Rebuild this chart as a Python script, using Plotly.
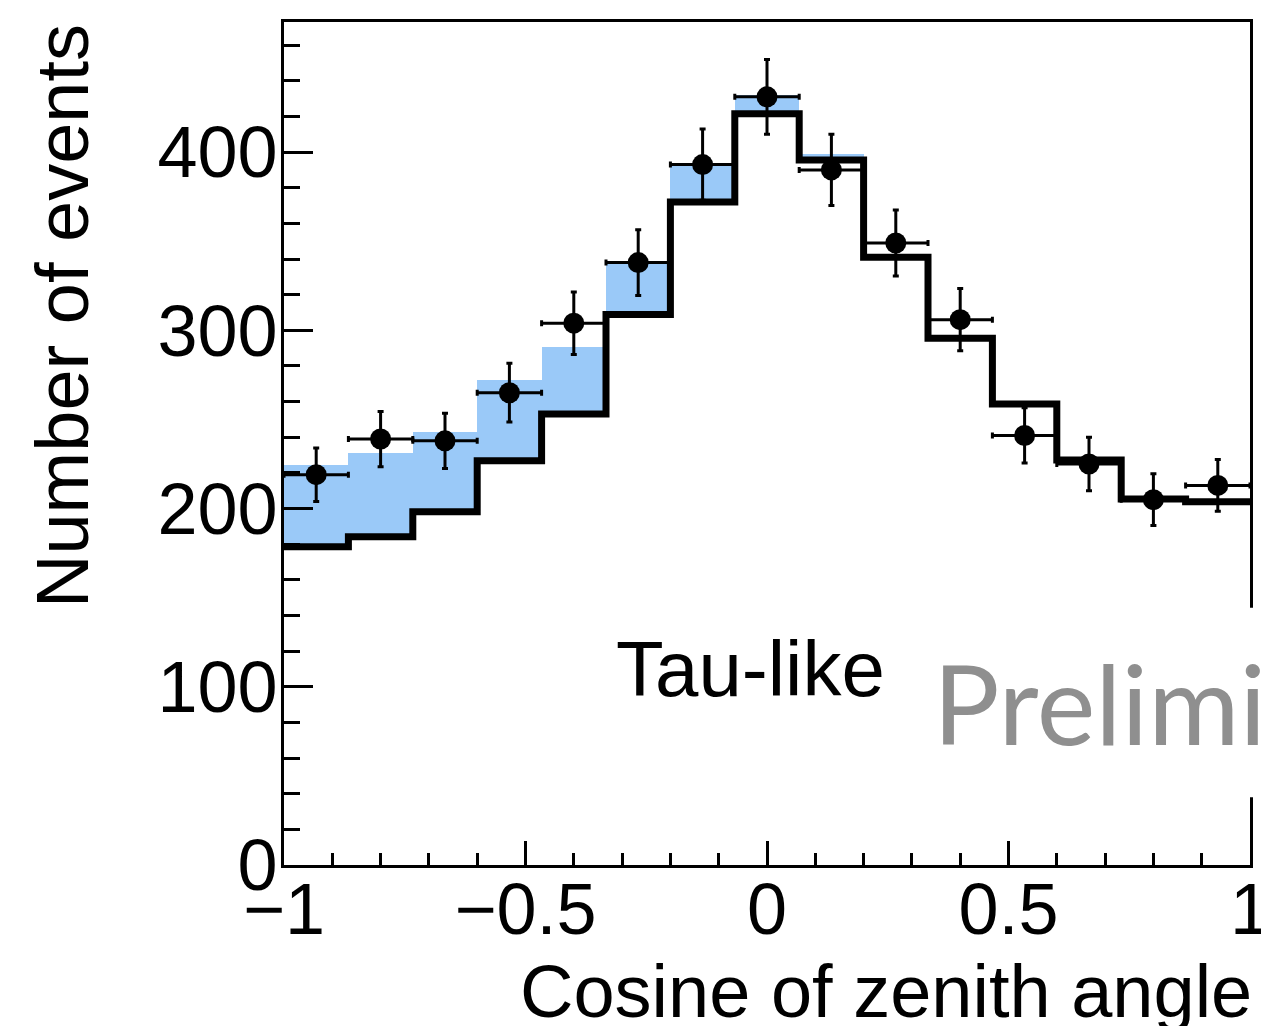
import numpy as np
import plotly.graph_objects as go

# Zenith-angle binning: 15 equal bins in cos(theta) from -1 to 1
n_bins = 15
bin_edges = np.linspace(-1.0, 1.0, n_bins + 1)
bin_centers = 0.5 * (bin_edges[:-1] + bin_edges[1:])
bin_width = bin_edges[1] - bin_edges[0]

# Observed events per bin and their statistical uncertainty
observed = [219, 239, 238, 265, 304, 338, 393, 431, 390, 349, 306, 241, 225, 205, 213]
observed_err = [15, 15.5, 15.5, 16.5, 17.5, 18.5, 20, 21, 20, 18.5, 17.5, 15.5, 15, 14.5, 14.5]

# Expected events: background only (black step) and background + tau (blue)
background = [178.6, 184.2, 198.2, 226.8, 253.0, 308.9, 372.0, 421.5, 395.5,
              341.0, 295.5, 258.6, 227.2, 205.3, 203.8]
expected_total = [224.4, 230.9, 243.1, 272.1, 290.7, 338.4, 394.0, 432.0, 399.2,
                  341.0, 295.5, 258.6, 227.2, 205.3, 203.8]

# Axis ticks
x_tickvals = [-1, -0.5, 0, 0.5, 1]
x_ticktext = ["\u22121", "\u22120.5", "0", "0.5", "1"]

FONT = "Liberation Sans, Arial, Helvetica, sans-serif"
BLUE = "#9ac9f8"

fig = go.Figure()

# Background + tau expectation (filled)
fig.add_trace(go.Bar(
    x=bin_centers, y=expected_total, width=bin_width,
    marker=dict(color=BLUE, line=dict(width=0)),
    showlegend=False, hoverinfo="skip",
))

# Background-only expectation as a step histogram, white below
step_y = list(background) + [background[-1]]
fig.add_trace(go.Scatter(
    x=bin_edges, y=step_y, mode="lines",
    line=dict(color="black", width=7, shape="hv"),
    fill="tozeroy", fillcolor="white",
    showlegend=False, hoverinfo="skip",
))

# Data points with error bars
fig.add_trace(go.Scatter(
    x=bin_centers, y=observed, mode="markers",
    marker=dict(color="black", size=21, line=dict(width=0)),
    error_y=dict(type="data", array=observed_err, color="black", thickness=3, width=3),
    error_x=dict(type="constant", value=bin_width / 2, color="black", thickness=3, width=3),
    showlegend=False,
))

fig.update_layout(
    width=1261, height=1026,
    margin=dict(l=284, r=11, t=22, b=161),
    paper_bgcolor="white", plot_bgcolor="white",
    bargap=0,
    font=dict(family=FONT, color="black", size=72),
    xaxis=dict(
        range=[-1, 1], showgrid=False, zeroline=False,
        showline=True, linecolor="black", linewidth=3, mirror=True,
        ticks="inside", tickcolor="black", tickwidth=2.5, ticklen=24,
        tickmode="array", tickvals=x_tickvals, ticktext=x_ticktext,
        minor=dict(dtick=0.1, tick0=-1, ticks="inside", ticklen=12, tickcolor="black", tickwidth=2.5),
        tickfont=dict(size=72, family=FONT),
        ticklabelstandoff=-20, ticklabeloverflow="allow",
        automargin=False,
    ),
    yaxis=dict(
        range=[0, 473], showgrid=False, zeroline=False,
        showline=True, linecolor="black", linewidth=3, mirror=True,
        ticks="inside", tickcolor="black", tickwidth=2.5, ticklen=29,
        dtick=100, tick0=0,
        minor=dict(dtick=20, tick0=0, ticks="inside", ticklen=16, tickcolor="black", tickwidth=2.5),
        tickfont=dict(size=72, family=FONT),
        ticklabelstandoff=-11, ticklabeloverflow="allow",
        automargin=False,
    ),
    shapes=[
        # white backing behind the watermark
        dict(type="rect", xref="paper", yref="paper", x0=0.665, x1=1.03, y0=0.0805, y1=0.3053,
             fillcolor="white", line=dict(width=0), layer="above"),
    ],
    annotations=[
        dict(text="Number of events", textangle=-90, showarrow=False,
             xref="paper", yref="paper", x=(62 - 284) / 966, y=1.0,
             xanchor="center", yanchor="top", font=dict(size=74, family=FONT)),
        dict(text="Cosine of zenith angle", showarrow=False,
             xref="paper", yref="paper", x=1.004, y=-0.15,
             xanchor="right", yanchor="middle", font=dict(size=74, family=FONT)),
        dict(text="Tau-like", showarrow=False, xref="x", yref="y",
             x=-0.035, y=110, xanchor="center", yanchor="middle",
             font=dict(size=78, family=FONT)),
        dict(text="Preliminary", showarrow=False, xref="paper", yref="paper",
             x=(931 - 284) / 966, y=0.193, xanchor="left", yanchor="middle",
             font=dict(size=111, family="Lato, sans-serif", color="#8f8f8f")),
    ],
)

fig.write_html("out.html")
